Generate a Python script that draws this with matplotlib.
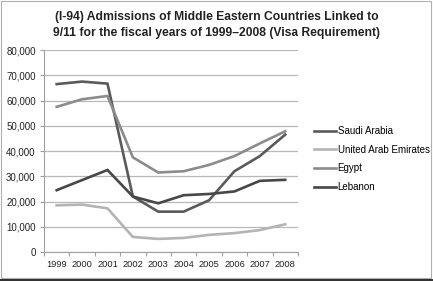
import matplotlib.pyplot as plt
import numpy as np
from matplotlib.patches import Rectangle

plt.rcParams['font.family'] = ['Liberation Sans', 'DejaVu Sans']

# 数据
years = ['1999', '2000', '2001', '2002', '2003', '2004', '2005', '2006', '2007', '2008']
saudi = [66500, 67500, 66700, 22000, 16000, 16000, 20500, 32000, 38000, 46500]
uae = [18500, 18800, 17300, 6000, 5200, 5600, 6800, 7500, 8700, 11000]
egypt = [57500, 60500, 61800, 37500, 31500, 32000, 34500, 38000, 43000, 47800]
lebanon = [24500, 28500, 32500, 22000, 19300, 22500, 23000, 24000, 28200, 28600]

series = [
    ('Saudi Arabia', saudi, '#5a5a5a'),
    ('United Arab Emirates', uae, '#b4b4b4'),
    ('Egypt', egypt, '#8c8c8c'),
    ('Lebanon', lebanon, '#474747'),
]

fig = plt.figure(figsize=(4.33, 2.81), dpi=100)
ax = fig.add_axes([0.1016, 0.103, 0.5864, 0.719])

x = np.arange(len(years))
for name, vals, col in series:
    ax.plot(x, vals, color=col, linewidth=1.9, label=name, solid_joinstyle='miter')

ax.set_xlim(-0.5, len(years) - 0.5)
ax.set_ylim(0, 80000)
ax.set_yticks(np.arange(0, 80001, 10000))
ax.set_yticklabels([f'{v:,}' for v in range(0, 80001, 10000)])
ax.set_xticks(x)
ax.set_xticklabels(years)
ax.set_xticks(np.arange(-0.5, len(years)), minor=True)
ax.tick_params(axis='x', which='major', length=0, pad=6, labelsize=6.7, labelcolor='#222222')
ax.tick_params(axis='x', which='minor', length=3, color='#a0a0a0', width=0.8)
ax.tick_params(axis='y', length=3, color='#a0a0a0', width=0.8, labelsize=7,
               labelcolor='#222222', pad=3)

ax.grid(axis='y', color='#b8b8b8', linewidth=0.9)
ax.set_axisbelow(True)
for s in ['top', 'right']:
    ax.spines[s].set_visible(False)
ax.spines['left'].set_color('#a0a0a0')
ax.spines['bottom'].set_color('#a0a0a0')

fig.text(0.5, 0.962, '(I-94) Admissions of Middle Eastern Countries Linked to\n'
         '9/11 for the fiscal years of 1999\u20132008 (Visa Requirement)',
         ha='center', va='top', fontsize=8.7, fontweight='bold', color='#222222',
         linespacing=1.5)

ax.legend(loc='center left', bbox_to_anchor=(1.03, 0.46), frameon=False, fontsize=7,
          handlelength=2.2, handletextpad=0.2, labelspacing=0.88)

# 外框
fig.patches.append(Rectangle((0.003, 0.012), 0.993, 0.984, transform=fig.transFigure,
                             fill=False, edgecolor='#b0b0b0', linewidth=0.8))
fig.patches.append(Rectangle((0.0, 0.0), 1.0, 0.008, transform=fig.transFigure,
                             facecolor='#333333', edgecolor='none'))

plt.savefig('out.png', dpi=100)
